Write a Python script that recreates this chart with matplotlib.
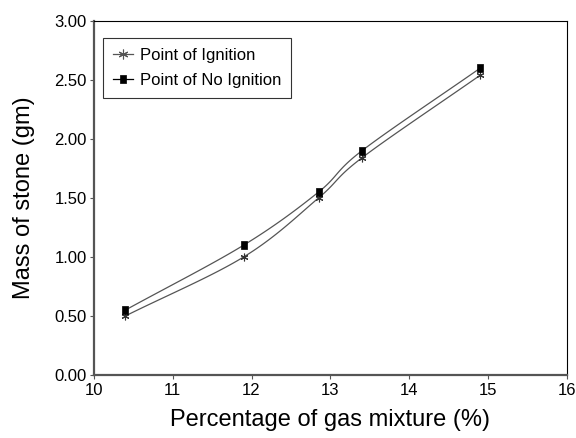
import numpy as np
import matplotlib
matplotlib.use("Agg")
import matplotlib.pyplot as plt
from matplotlib.path import Path

plt.rcParams["font.family"] = ["Liberation Sans", "DejaVu Sans"]

# valores
gas_pct = [10.4, 11.9, 12.85, 13.4, 14.9]
ignition = [0.50, 1.00, 1.50, 1.84, 2.54]
no_ignition = [0.55, 1.10, 1.55, 1.90, 2.60]


def smooth(x, y, n=30):
    # curva suavizada tipo Catmull-Rom (como el "smoothed line" de Excel)
    x = np.asarray(x, float)
    y = np.asarray(y, float)
    px = np.concatenate([[2 * x[0] - x[1]], x, [2 * x[-1] - x[-2]]])
    py = np.concatenate([[2 * y[0] - y[1]], y, [2 * y[-1] - y[-2]]])
    xs, ys = [], []
    t = np.linspace(0, 1, n)
    for i in range(1, len(px) - 2):
        for p, out in ((px, xs), (py, ys)):
            p0, p1, p2, p3 = p[i - 1], p[i], p[i + 1], p[i + 2]
            out.extend(0.5 * (2 * p1 + (-p0 + p2) * t
                              + (2 * p0 - 5 * p1 + 4 * p2 - p3) * t ** 2
                              + (-p0 + 3 * p1 - 3 * p2 + p3) * t ** 3))
    return xs, ys


fig = plt.figure(figsize=(5.76, 4.38), dpi=100)
ax = fig.add_axes([0.163, 0.144, 0.821, 0.808])

line_col = "#555555"
star = (6, 2, 0)
rect = Path([(-0.75, -1), (0.75, -1), (0.75, 1), (-0.75, 1), (0, 0)],
            [Path.MOVETO, Path.LINETO, Path.LINETO, Path.LINETO, Path.CLOSEPOLY])

sx, sy = smooth(gas_pct, ignition)
ax.plot(sx, sy, color=line_col, lw=0.9)
sx, sy = smooth(gas_pct, no_ignition)
ax.plot(sx, sy, color=line_col, lw=0.9)
ax.plot(gas_pct, ignition, ls="none", marker=star, ms=5.5, mec="#333333", mew=0.8)
ax.plot(gas_pct, no_ignition, ls="none", marker=rect, ms=6, mfc="black", mec="black", mew=0.5)

# entradas de la leyenda
h1, = ax.plot([], [], color=line_col, lw=0.9, marker=star, ms=7, mec="#555555", mew=0.8)
h2, = ax.plot([], [], color="black", lw=0.9, marker=rect, ms=6, mfc="black", mec="black", mew=0.5)
leg = ax.legend([h1, h2], ["Point of Ignition", "Point of No Ignition"],
                loc="upper left", bbox_to_anchor=(0.019, 0.952), fontsize=12,
                fancybox=False, edgecolor="black", handlelength=1.2,
                handletextpad=0.4, borderpad=0.6, labelspacing=0.6,
                borderaxespad=0)
leg.get_frame().set_linewidth(0.8)

ax.set_xlim(10, 16)
ax.set_ylim(0, 3)
ax.set_xticks(range(10, 17))
ax.set_yticks(np.arange(0, 3.01, 0.5))
ax.set_yticklabels(["%.2f" % v for v in np.arange(0, 3.01, 0.5)])
ax.tick_params(direction="out", length=3, width=0.8, labelsize=12, colors="#555555",
               labelcolor="black")
ax.tick_params(axis="x", pad=3)
ax.tick_params(axis="y", pad=2)

for s in ("left", "bottom"):
    ax.spines[s].set_color("#555555")
    ax.spines[s].set_linewidth(1.6)
for s in ("top", "right"):
    ax.spines[s].set_color("black")
    ax.spines[s].set_linewidth(0.8)

ax.set_xlabel("Percentage of gas mixture (%)", fontsize=17, labelpad=8)
ax.set_ylabel("Mass of stone (gm)", fontsize=17, labelpad=14)

fig.savefig("out.png", dpi=100)
